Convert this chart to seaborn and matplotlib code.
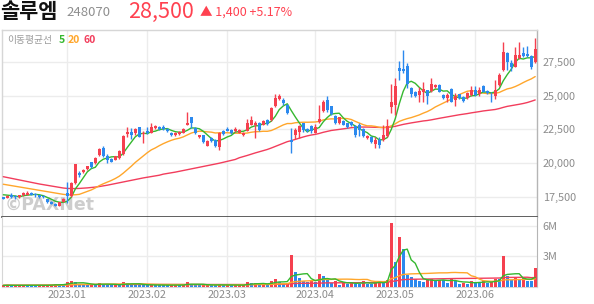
import numpy as np
import pandas as pd
import matplotlib
matplotlib.use("Agg")
import matplotlib.pyplot as plt
import seaborn as sns

# ---------------- data ----------------
stock_name = "솔루엠"
stock_code = "248070"
last_price = "28,500"
change_text = "▲ 1,400 +5.17%"

krx_holidays = ["2022-12-30", "2023-01-23", "2023-01-24", "2023-03-01",
                "2023-05-01", "2023-05-05", "2023-05-29", "2023-06-06"]
start_date = "2022-12-08"
end_date = "2023-06-23"

open_ = [17450, 17400, 17600, 17550, 17450, 17600, 17650, 17800, 17700, 17600,
         17550, 17300, 17150, 17000, 16850, 17150, 17800, 17550, 18500, 19300,
         19350, 19550, 20050, 20000, 20600, 21150, 20550, 20300, 20250, 20350,
         20650, 22150, 22300, 22200, 22650, 22150, 22350, 22250, 22600, 22700,
         22700, 22550, 22250, 22050, 22150, 22250, 22850, 23400, 22600, 21900,
         22050, 21300, 21850, 21750, 21200, 22400, 22500, 22450, 22350, 22250,
         22050, 22400, 22850, 22850, 23000, 22850, 23200, 23200, 24200, 24750,
         24700, 24300, 21700, 22050, 22300, 22950, 22550, 22750, 22250, 23050,
         23900, 24650, 24200, 23500, 22950, 23150, 22950, 23050, 22750, 22850,
         22550, 21850, 21950, 21450, 21750, 21700, 22000, 24150, 24300, 27050,
         27000, 27200, 25600, 25300, 25050, 25300, 25400, 25350, 25650, 25800,
         25050, 24800, 25500, 24700, 25100, 24900, 24800, 25050, 25450, 25100,
         25750, 25350, 25150, 24950, 25800, 26900, 28150, 27450, 27150, 27800,
         28150, 28100, 27950, 27500]
high = [17500, 17600, 17750, 17650, 17650, 17850, 17950, 17850, 17750, 17650,
        17600, 17350, 17200, 17050, 17150, 17400, 18600, 18600, 19950, 19400,
        19550, 19800, 20100, 20450, 21150, 21250, 20700, 20350, 20550, 20950,
        22050, 22650, 22600, 22600, 22700, 22350, 22650, 22950, 22800, 22750,
        22850, 22600, 22300, 22300, 22350, 22600, 23800, 23450, 22650, 22100,
        22100, 21700, 21900, 21800, 22300, 22450, 22650, 22500, 22650, 22500,
        22300, 23300, 23500, 23100, 23050, 23200, 23300, 24150, 25100, 25100,
        24800, 24400, 22600, 22600, 22850, 23000, 22600, 22850, 22900, 24300,
        24700, 24950, 24250, 23550, 23450, 23200, 23000, 23100, 22850, 23000,
        22600, 22050, 22000, 21900, 21900, 22800, 23250, 25900, 26300, 27550,
        28400, 27400, 25650, 25350, 25650, 26000, 25450, 26300, 25900, 25850,
        25100, 25200, 25550, 25200, 25150, 24950, 25300, 25700, 25700, 25650,
        25800, 25400, 25250, 26200, 26700, 29000, 28250, 27650, 28650, 29000,
        28650, 28700, 28050, 29300]
low = [17300, 17380, 17400, 17350, 17420, 17550, 17600, 17600, 17500, 17400,
       17400, 17050, 16950, 16800, 16800, 17100, 17050, 17500, 18450, 19000,
       19300, 19500, 19600, 19950, 20550, 20450, 20000, 20050, 20200, 20300,
       20600, 21950, 21800, 22100, 21900, 21500, 22150, 22200, 22550, 22450,
       22450, 22300, 22000, 22000, 22100, 22200, 22800, 22600, 22150, 21850,
       21500, 21250, 21600, 21200, 20950, 22100, 22350, 22150, 22300, 22200,
       22000, 22350, 22800, 21850, 22400, 22800, 22850, 23150, 24150, 24700,
       24300, 23650, 20750, 21800, 21850, 22300, 22300, 22250, 22200, 23000,
       23800, 23800, 23600, 22900, 22900, 22800, 22600, 22750, 21900, 22000,
       21950, 21800, 21500, 21150, 21150, 21650, 21950, 23700, 23550, 26150,
       26650, 25600, 24900, 24900, 24550, 24550, 24400, 25300, 25600, 25250,
       24750, 24500, 24500, 24200, 24750, 24550, 24750, 25000, 24950, 24950,
       25250, 25150, 24500, 24750, 25750, 26850, 26900, 26800, 27100, 27750,
       27900, 27850, 26950, 27450]
close = [17350, 17550, 17500, 17450, 17600, 17800, 17750, 17650, 17600, 17450,
         17450, 17100, 17000, 16850, 17100, 17350, 17550, 18500, 19900, 19100,
         19500, 19750, 19700, 20400, 21050, 20550, 20200, 20100, 20500, 20900,
         22000, 22300, 22050, 22500, 21950, 22250, 22200, 22700, 22750, 22500,
         22500, 22350, 22050, 22250, 22300, 22550, 23000, 22950, 22200, 22050,
         21600, 21650, 21650, 21250, 22250, 22150, 22400, 22200, 22500, 22450,
         22250, 22950, 23200, 23000, 22450, 23100, 22900, 24100, 24800, 24950,
         24450, 23700, 21600, 22450, 22750, 22450, 22350, 22400, 22700, 23300,
         24550, 23950, 23650, 22950, 23400, 22850, 22650, 22800, 22050, 22450,
         22000, 22000, 21550, 21700, 21350, 22100, 22750, 24550, 25700, 26850,
         26800, 25850, 25150, 24950, 25350, 25500, 24950, 25850, 25800, 25300,
         24800, 25050, 24550, 25000, 24800, 24600, 25200, 25400, 25050, 25400,
         25300, 25200, 25100, 25400, 26550, 28250, 27500, 27100, 28000, 28050,
         27950, 27950, 27100, 28500]
volume = [120e3, 150e3, 110e3, 130e3, 140e3, 160e3, 150e3, 120e3, 110e3, 130e3,
          140e3, 150e3, 180e3, 240e3, 200e3, 180e3, 450e3, 560e3, 430e3, 250e3,
          200e3, 180e3, 220e3, 190e3, 360e3, 230e3, 200e3, 150e3, 170e3, 160e3,
          420e3, 330e3, 250e3, 200e3, 180e3, 150e3, 140e3, 180e3, 160e3, 150e3,
          140e3, 130e3, 140e3, 170e3, 150e3, 180e3, 420e3, 240e3, 180e3, 140e3,
          160e3, 200e3, 170e3, 130e3, 180e3, 140e3, 150e3, 130e3, 140e3, 150e3,
          160e3, 420e3, 330e3, 330e3, 200e3, 270e3, 220e3, 570e3, 740e3, 500e3,
          300e3, 350e3, 3.1e6, 1.43e6, 810e3, 570e3, 480e3, 640e3, 460e3, 1.2e6,
          1.03e6, 650e3, 330e3, 600e3, 200e3, 480e3, 250e3, 380e3, 300e3, 280e3,
          600e3, 300e3, 230e3, 360e3, 600e3, 460e3, 620e3, 6.28e6, 2.43e6, 4.9e6,
          3.68e6, 1.18e6, 960e3, 790e3, 550e3, 460e3, 620e3, 790e3, 550e3, 690e3,
          620e3, 360e3, 790e3, 550e3, 230e3, 360e3, 300e3, 550e3, 460e3, 380e3,
          550e3, 380e3, 460e3, 790e3, 700e3, 2.99e6, 1.05e6, 620e3, 960e3, 720e3,
          800e3, 600e3, 560e3, 1.84e6]

ma5_lead = [17650, 17620, 17590, 17560]
ma20_lead = [18430, 18380, 18330, 18280, 18230, 18180, 18130, 18080, 18030, 17980,
             17930, 17880, 17830, 17780, 17730, 17680, 17650, 17640, 17650]
ma60_lead = [18990, 18930, 18870, 18810, 18750, 18690, 18630, 18570, 18510, 18450,
             18400, 18350, 18300, 18250, 18200, 18150, 18120, 18110, 18110, 18120,
             18140, 18160, 18190, 18220, 18260, 18310, 18360, 18420, 18480, 18540,
             18600, 18660, 18720, 18780, 18840, 18900, 18950, 19000, 19050, 19100,
             19180, 19230, 19280, 19330, 19390, 19450, 19510, 19570, 19630, 19690,
             19750, 19810, 19870, 19930, 19990, 20060, 20130, 20200, 20270]

price_ticks = [17500, 20000, 22500, 25000, 27500]
vol_ticks = [3e6, 6e6]
vol_tick_labels = ["3M", "6M"]
ma_labels = ["5", "20", "60"]

# ---------------- style ----------------
sns.set_style("white")
plt.rcParams['font.family'] = ['Noto Sans CJK KR', 'DejaVu Sans']

RED = "#f5404f"
BLUE = "#2c89ee"
GREEN = "#35b82f"
ORANGE = "#ffa62b"
PINK = "#f23d5c"
GRID = "#ececec"
TXT = "#8c8c8c"

dates = pd.bdate_range(start_date, end_date)
dates = dates[~dates.isin(pd.to_datetime(krx_holidays))]
n = len(close)
x = np.arange(n)
o = np.array(open_, float); h = np.array(high, float)
l = np.array(low, float); c = np.array(close, float)
v = np.array(volume, float)

cs = pd.Series(c)
ma5 = cs.rolling(5).mean().to_numpy(); ma5[:len(ma5_lead)] = ma5_lead
ma20 = cs.rolling(20).mean().to_numpy(); ma20[:len(ma20_lead)] = ma20_lead
ma60 = cs.rolling(60).mean().to_numpy(); ma60[:len(ma60_lead)] = ma60_lead
vs = pd.Series(v)
vma5 = vs.rolling(5, min_periods=1).mean().to_numpy()
vma20 = vs.rolling(20, min_periods=1).mean().to_numpy()
vma60 = vs.rolling(60, min_periods=1).mean().to_numpy()

month_idx = [i for i in range(1, n) if dates[i].month != dates[i - 1].month]
month_lbl = [dates[i].strftime("%Y.%m") for i in month_idx]

W, H = 594, 304
fig = plt.figure(figsize=(W / 100, H / 100), dpi=100)

def rect(x0, y0, x1, y1):
    return [x0 / W, 1 - y1 / H, (x1 - x0) / W, (y1 - y0) / H]

axp = fig.add_axes(rect(2, 30, 537, 217))
axv = fig.add_axes(rect(2, 217, 537, 287))

# ---- price panel ----
up = c >= o
col = np.where(up, RED, BLUE)
axp.vlines(x, l, h, colors=col, lw=1.0, zorder=4)
body_lo = np.minimum(o, c)
body_h = np.maximum(np.abs(c - o), 40)
axp.bar(x, body_h, bottom=body_lo, width=0.75, color=col, linewidth=0, zorder=5)

for series, colr in [(ma60, PINK), (ma20, ORANGE), (ma5, GREEN)]:
    sns.lineplot(x=x, y=series, ax=axp, color=colr, lw=1.0, zorder=3)

axp.set_xlim(-0.33, 133.45)
axp.set_ylim(16000, 29875)
axp.set_yticks(price_ticks)
axp.set_yticklabels([f"{t:,}" for t in price_ticks])
axp.yaxis.tick_right()
axp.set_xticks(month_idx)
axp.set_xticklabels([])
axp.tick_params(axis='both', length=0, labelsize=7.8, colors=TXT, pad=4)
axp.grid(True, color=GRID, lw=1)
axp.set_axisbelow(True)
for s in ['top', 'left']:
    axp.spines[s].set_color('#d6d6d6'); axp.spines[s].set_linewidth(1)
axp.spines['right'].set_color('#b5b5b5'); axp.spines['right'].set_linewidth(1)
axp.spines['bottom'].set_color('#444444'); axp.spines['bottom'].set_linewidth(1.2)

# watermark (bottom-left of the price panel)
axp.text(3 / 535, 12 / 187, "©PAXNet", transform=axp.transAxes, fontsize=12.5,
         fontweight='bold', color='#cdcdcd', va='center', ha='left', zorder=1,
         family=['DejaVu Sans'])
# legend of moving averages
axp.text(5 / 535, 1 - 10 / 187, "이동평균선", transform=axp.transAxes, fontsize=7,
         color='#9a9a9a', va='center', ha='left')
for lab, colr, xp in zip(ma_labels, [GREEN, ORANGE, PINK], [57, 66, 81]):
    axp.text(xp / 535, 1 - 10 / 187, lab, transform=axp.transAxes, fontsize=7.5,
             color=colr, va='center', ha='left', fontweight='bold')

# ---- volume panel ----
prev = np.concatenate([[0], v[:-1]])
vcol = np.where(v >= prev, RED, BLUE)
axv.bar(x, v, width=0.75, color=vcol, linewidth=0, zorder=3)
for series, colr in [(vma60, PINK), (vma20, ORANGE), (vma5, GREEN)]:
    sns.lineplot(x=x, y=series, ax=axv, color=colr, lw=1.0, zorder=4)
axv.set_xlim(-0.33, 133.45)
axv.set_ylim(-40000, 6.86e6)
axv.set_yticks(vol_ticks)
axv.set_yticklabels(vol_tick_labels)
axv.yaxis.tick_right()
axv.set_xticks(month_idx)
axv.set_xticklabels(month_lbl)
axv.tick_params(axis='both', length=0, labelsize=7.8, colors=TXT, pad=4)
axv.tick_params(axis='x', pad=2)
axv.grid(True, color=GRID, lw=1)
axv.set_axisbelow(True)
axv.spines['top'].set_visible(False)
axv.spines['left'].set_color('#d6d6d6')
axv.spines['right'].set_color('#b5b5b5')
axv.spines['bottom'].set_color('#d6d6d6')

# ---- header ----
fig.text(0 / W, 1 - 11 / H, stock_name, fontsize=15, fontweight='bold', color='#111111',
         va='center', ha='left')
fig.text(66 / W, 1 - 12 / H, stock_code, fontsize=9.5, color='#8e8e8e', va='center', ha='left')
fig.text(128 / W, 1 - 11.5 / H, last_price, fontsize=15.5, color='#ff4150', va='center', ha='left')
fig.text(200 / W, 1 - 12 / H, change_text, fontsize=9, color='#ff4150', va='center', ha='left')

fig.savefig("out.png", dpi=100)
